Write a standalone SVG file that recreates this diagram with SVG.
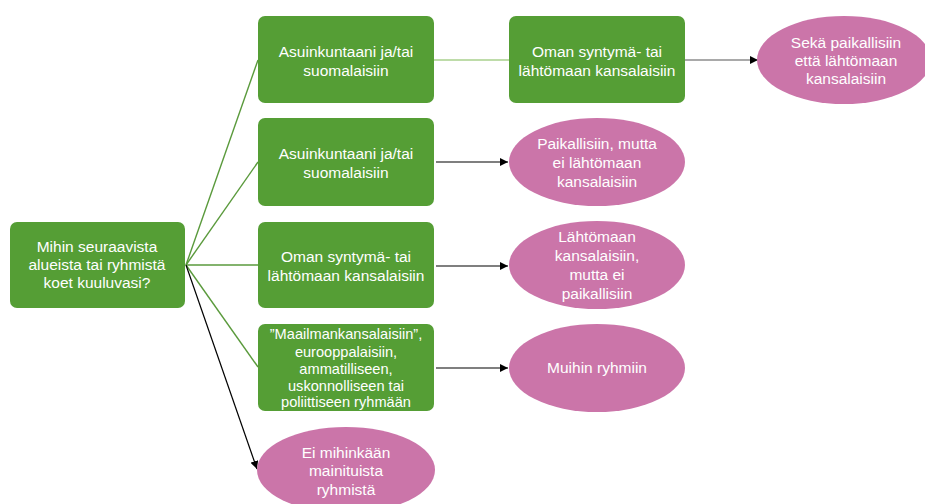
<svg xmlns="http://www.w3.org/2000/svg" width="925" height="504" viewBox="0 0 925 504">
<style>
.box{fill:#559e35}
.ell{fill:#cb75a9}
.t{font-family:"Liberation Sans",Arial,sans-serif;font-size:15.5px;fill:#ffffff;text-anchor:middle;dominant-baseline:central}
.ts{font-size:14.6px}
.lg{stroke:#5a9a3c;stroke-width:1.4;fill:none}
.ll{stroke:#a8d08d;stroke-width:1.6;fill:none}
.ar{stroke:#000;stroke-width:1.2;fill:none;marker-end:url(#ah)}
</style>
<defs>
<marker id="ah" viewBox="0 0 10 10" refX="10" refY="5" markerWidth="8" markerHeight="8" markerUnits="userSpaceOnUse" orient="auto">
<path d="M0,0 L10,5 L0,10 z" fill="#000"/>
</marker>
</defs>
<rect width="925" height="504" fill="#ffffff"/>
<g id="connectors">
<line class="lg" x1="186" y1="265" x2="258" y2="60"/>
<line class="lg" x1="186" y1="265" x2="258" y2="162"/>
<line class="lg" x1="186" y1="265" x2="258" y2="265"/>
<line class="lg" x1="186" y1="265" x2="258" y2="367"/>
<line class="ar" x1="186" y1="265" x2="257" y2="469"/>
<line class="ll" x1="434" y1="60" x2="509" y2="60"/>
<line class="ar" x1="685" y1="60" x2="758" y2="60" style="stroke:#555"/>
<line class="ar" x1="436" y1="162" x2="508" y2="162"/>
<line class="ar" x1="436" y1="266" x2="508" y2="266"/>
<line class="ar" x1="436" y1="368" x2="508" y2="368"/>
</g>
<g id="root">
<rect class="box" x="10" y="222" width="175" height="86" rx="7"/>
<text class="t" x="97" y="246">Mihin seuraavista</text>
<text class="t" x="97" y="264">alueista tai ryhmistä</text>
<text class="t" x="97" y="282">koet kuuluvasi?</text>
</g>
<g id="box1">
<rect class="box" x="258" y="16" width="176" height="87" rx="7"/>
<text class="t" x="346" y="51">Asuinkuntaani ja/tai</text>
<text class="t" x="346" y="70">suomalaisiin</text>
</g>
<g id="box1b">
<rect class="box" x="509" y="16" width="176" height="87" rx="7"/>
<text class="t" x="597" y="51">Oman syntymä- tai</text>
<text class="t" x="597" y="70">lähtömaan kansalaisiin</text>
</g>
<g id="ell1">
<ellipse class="ell" cx="844" cy="60" rx="87" ry="44"/>
<text class="t" x="846" y="42">Sekä paikallisiin</text>
<text class="t" x="846" y="60">että lähtömaan</text>
<text class="t" x="846" y="78">kansalaisiin</text>
</g>
<g id="box2">
<rect class="box" x="258" y="118" width="176" height="88" rx="7"/>
<text class="t" x="346" y="153">Asuinkuntaani ja/tai</text>
<text class="t" x="346" y="172">suomalaisiin</text>
</g>
<g id="ell2">
<ellipse class="ell" cx="597" cy="162" rx="88" ry="44"/>
<text class="t" x="597" y="143">Paikallisiin, mutta</text>
<text class="t" x="597" y="162">ei lähtömaan</text>
<text class="t" x="597" y="181">kansalaisiin</text>
</g>
<g id="box3">
<rect class="box" x="258" y="222" width="176" height="86" rx="7"/>
<text class="t" x="346" y="256">Oman syntymä- tai</text>
<text class="t" x="346" y="275">lähtömaan kansalaisiin</text>
</g>
<g id="ell3">
<ellipse class="ell" cx="597" cy="265" rx="88" ry="44"/>
<text class="t" x="597" y="236">Lähtömaan</text>
<text class="t" x="597" y="255">kansalaisiin,</text>
<text class="t" x="597" y="274">mutta ei</text>
<text class="t" x="597" y="293">paikallisiin</text>
</g>
<g id="box4">
<rect class="box" x="258" y="324" width="176" height="87" rx="7"/>
<text class="t ts" x="346" y="334">”Maailmankansalaisiin”,</text>
<text class="t ts" x="346" y="352">eurooppalaisiin,</text>
<text class="t ts" x="346" y="369">ammatilliseen,</text>
<text class="t ts" x="346" y="386">uskonnolliseen tai</text>
<text class="t ts" x="346" y="402">poliittiseen ryhmään</text>
</g>
<g id="ell4">
<ellipse class="ell" cx="597" cy="368" rx="88" ry="44"/>
<text class="t" x="597" y="367">Muihin ryhmiin</text>
</g>
<g id="ell5">
<ellipse class="ell" cx="346" cy="470" rx="89" ry="43"/>
<text class="t" x="346" y="452">Ei mihinkään</text>
<text class="t" x="346" y="470">mainituista</text>
<text class="t" x="346" y="489">ryhmistä</text>
</g>
</svg>
